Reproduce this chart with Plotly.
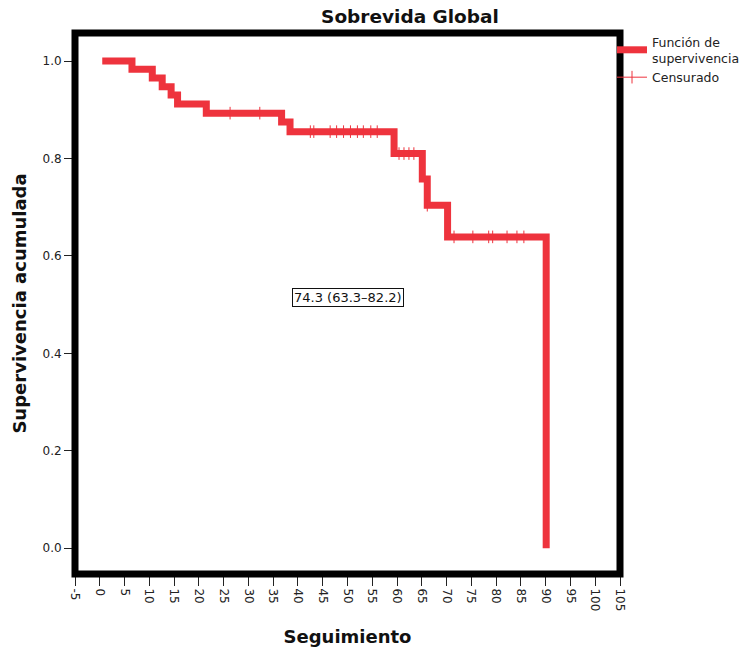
import plotly.graph_objects as go

# Kaplan-Meier step data (time, cumulative survival)
step_times = [0.5, 6.5, 10.6, 12.6, 14.4, 15.7, 21.5, 36.7, 38.4, 59.4, 65.1, 66.1, 70.2, 90.1]
step_surv = [1.0, 0.983, 0.965, 0.947, 0.930, 0.912, 0.893, 0.875, 0.855, 0.810, 0.758, 0.704, 0.639, 0.0]

# Censored observations
cens_times = [26.3, 32.3,
              42.5, 43.2, 46.5, 47.8, 49.2, 50.6, 52.0, 53.2, 54.7, 56.0,
              60.4, 61.4, 62.4, 63.4,
              66.1,
              71.5, 75.3, 78.5, 79.3, 82.2, 84.2, 85.6]
cens_surv = [0.893, 0.893,
             0.855, 0.855, 0.855, 0.855, 0.855, 0.855, 0.855, 0.855, 0.855, 0.855,
             0.810, 0.810, 0.810, 0.810,
             0.704,
             0.639, 0.639, 0.639, 0.639, 0.639, 0.639, 0.639]

x_ticks = list(range(-5, 110, 5))
y_ticks = [0.0, 0.2, 0.4, 0.6, 0.8, 1.0]

annot_text = "74.3 (63.3\u201382.2)"
RED = "#EE333D"
FONT = "DejaVu Sans"

# break censor points with None so the legend shows line+marker but no connecting lines
cx, cy = [], []
for t, s in zip(cens_times, cens_surv):
    cx += [t, None]
    cy += [s, None]

fig = go.Figure()
fig.add_trace(go.Scatter(
    x=step_times, y=step_surv, mode="lines", line_shape="hv",
    line=dict(color=RED, width=7), name="Función de<br>supervivencia"))
fig.add_trace(go.Scatter(
    x=cx, y=cy, mode="lines+markers", connectgaps=False,
    line=dict(color=RED, width=1),
    marker=dict(symbol="line-ns", size=9, line=dict(color=RED, width=1)),
    name="Censurado"))

fig.add_annotation(x=50.2, y=0.515, text=annot_text, showarrow=False,
                   font=dict(family=FONT, size=13, color="#111"),
                   bordercolor="#111", borderwidth=1, borderpad=1, bgcolor="white")

fig.add_shape(type="rect", xref="paper", yref="paper", x0=0, y0=0, x1=1, y1=1,
              line=dict(color="black", width=7), layer="above")

fig.update_layout(
    width=746, height=647,
    margin=dict(l=75, r=126, t=33, b=73, autoexpand=False),
    paper_bgcolor="white", plot_bgcolor="white",
    font=dict(family=FONT, color="#222"),
    title=dict(text="<b>Sobrevida Global</b>", x=410/746, xanchor="center",
               y=1 - 17/647, yanchor="middle", font=dict(family=FONT, size=18.5, color="#111")),
    showlegend=True,
    legend=dict(x=(612 - 75) / 545, xanchor="left", y=1.011, yanchor="top",
                font=dict(family=FONT, size=12.5, color="#222"),
                itemwidth=30, tracegroupgap=0, bgcolor="rgba(0,0,0,0)"),
)
fig.update_xaxes(range=[-5, 105], tickvals=x_ticks, ticktext=[str(v) for v in x_ticks],
                 tickangle=90, ticks="outside", ticklen=11, tickcolor="#222",
                 showgrid=False, zeroline=False, showline=False, automargin=False,
                 tickfont=dict(family=FONT, size=12, color="#222"),
                 title=dict(text="<b>Seguimiento</b>", standoff=20,
                            font=dict(family=FONT, size=18, color="#111")))
fig.update_yaxes(range=[-0.053, 1.0575], tickvals=y_ticks, tickformat=".1f",
                 ticks="outside", ticklen=10, tickcolor="#222",
                 showgrid=False, zeroline=False, showline=False, automargin=False,
                 tickfont=dict(family=FONT, size=12, color="#222"),
                 title=dict(text="<b>Supervivencia acumulada</b>", standoff=11,
                            font=dict(family=FONT, size=18, color="#111")))

fig.write_html("out.html")
